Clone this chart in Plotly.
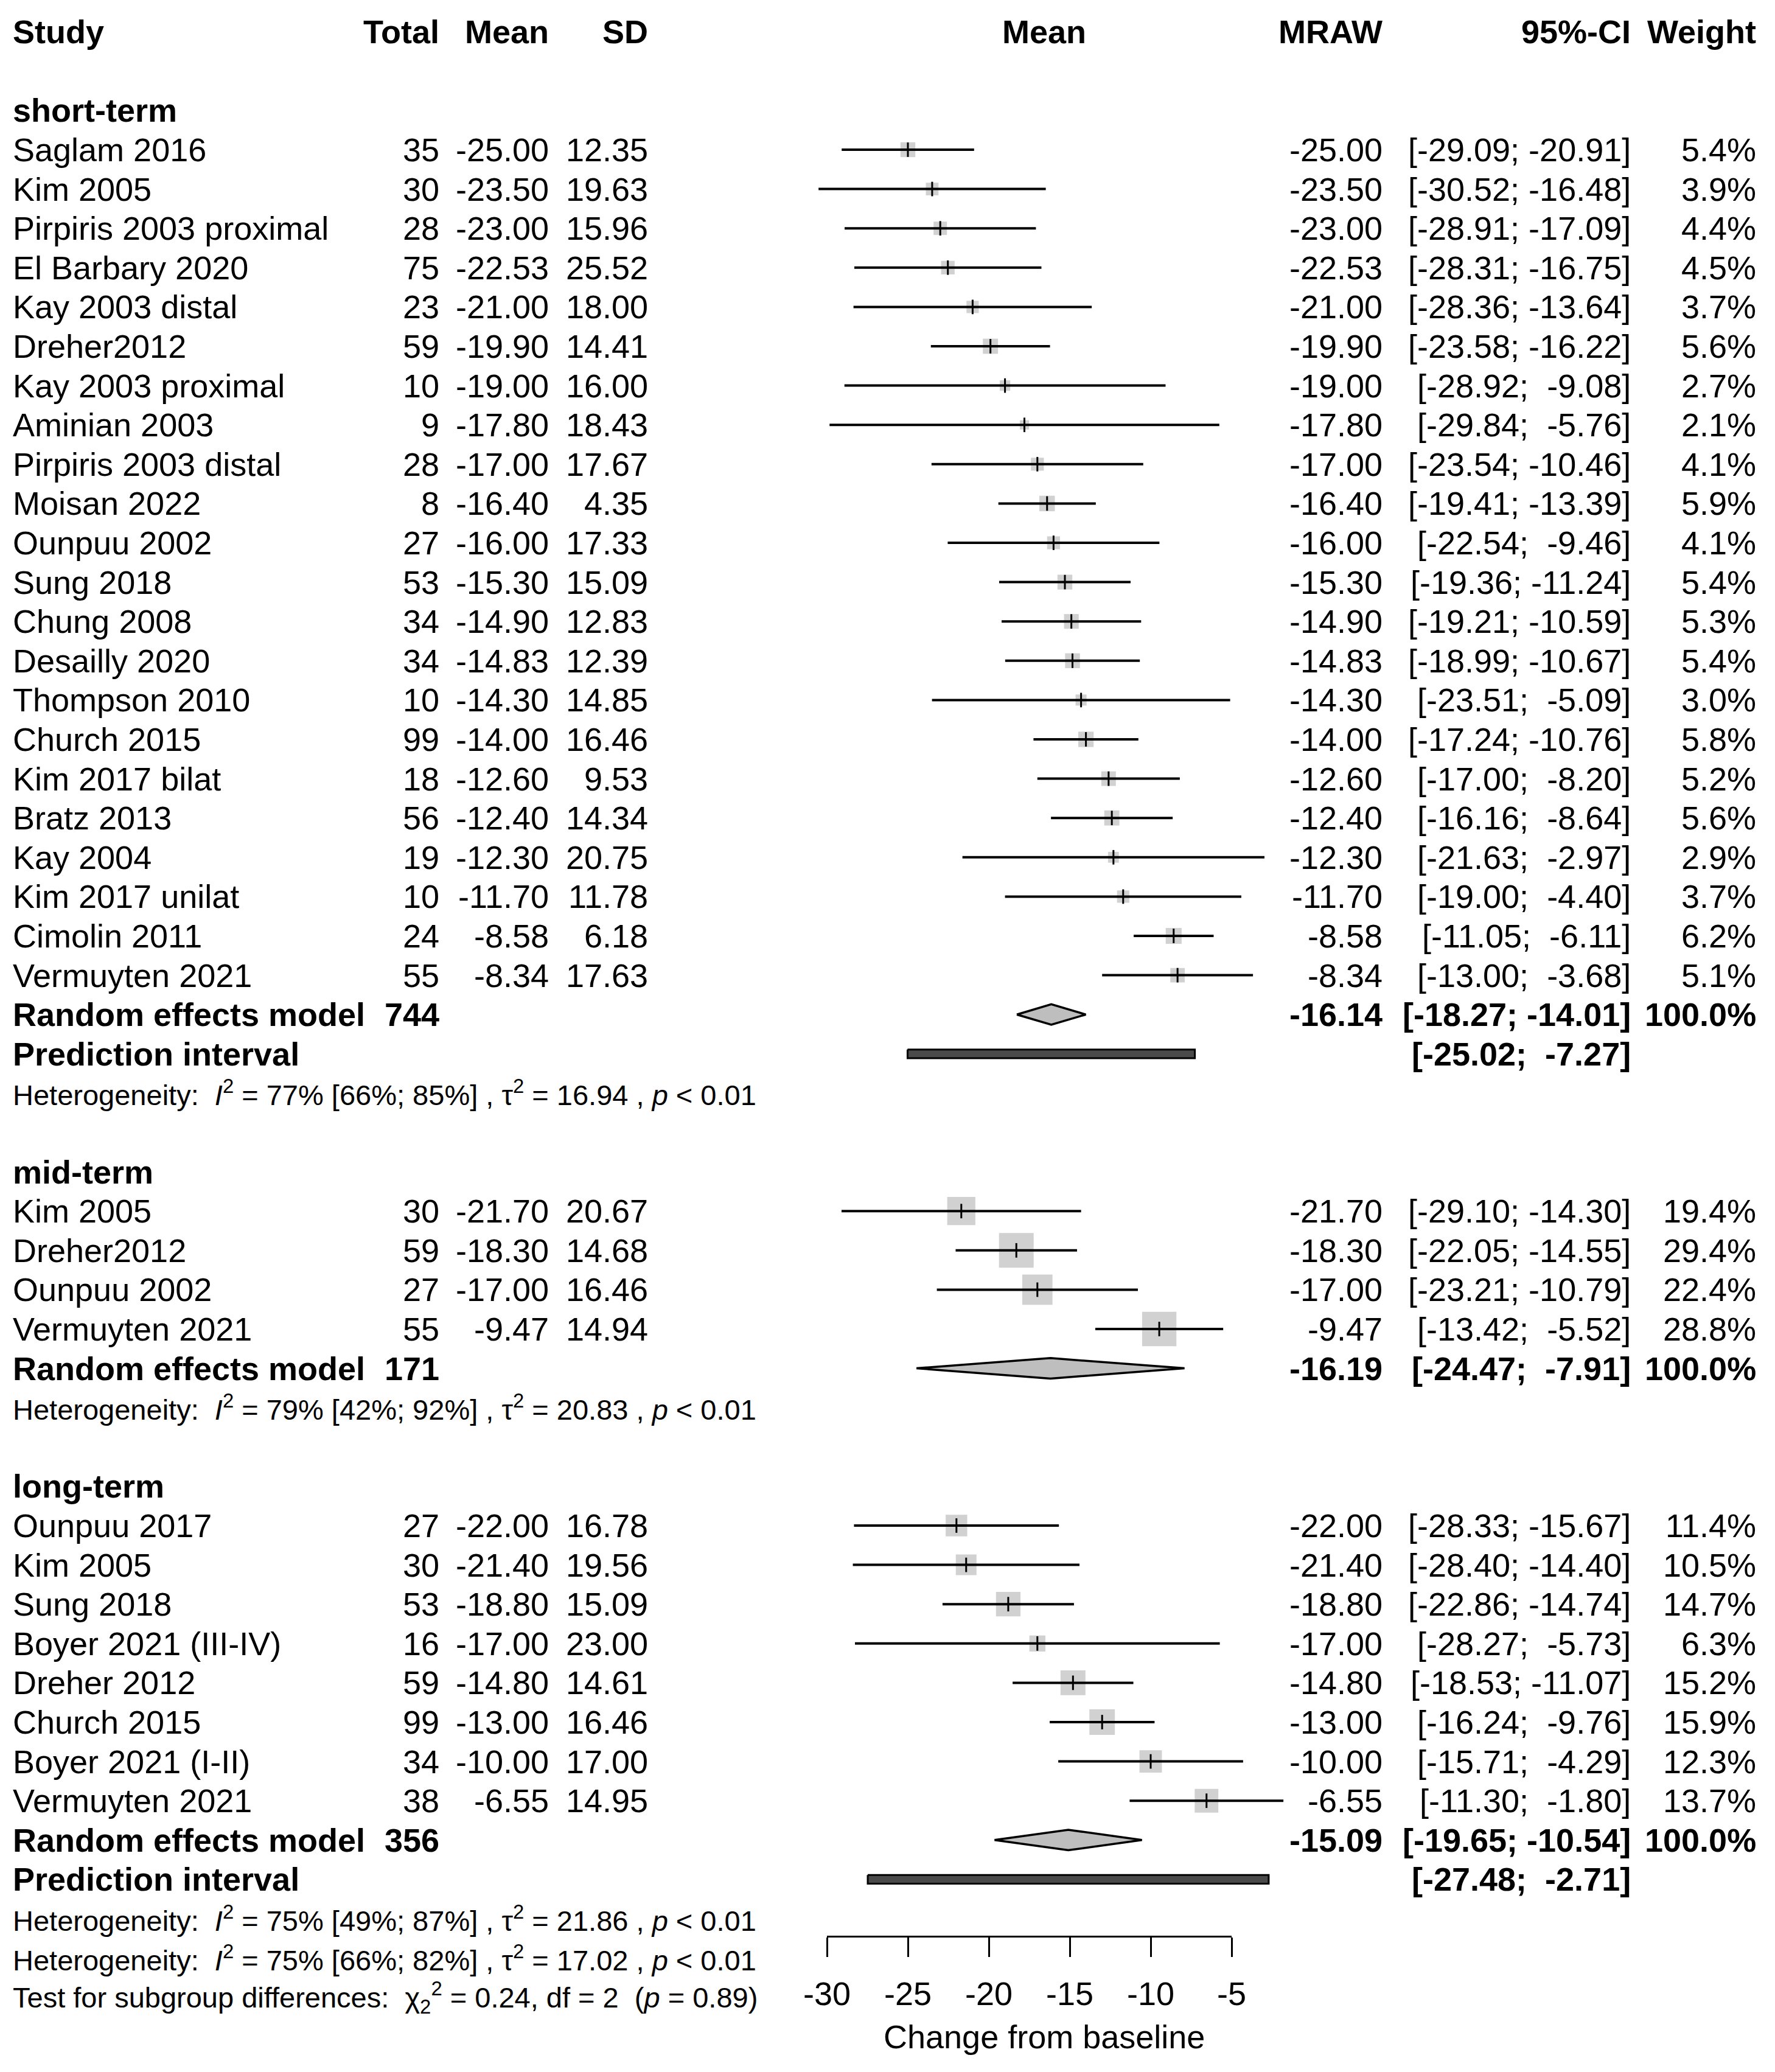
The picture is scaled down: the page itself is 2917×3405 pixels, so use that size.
import plotly.graph_objects as go
import math

# ---------------- data ----------------
short_study = ["Saglam 2016", "Kim 2005", "Pirpiris 2003 proximal", "El Barbary 2020", "Kay 2003 distal",
               "Dreher2012", "Kay 2003 proximal", "Aminian 2003", "Pirpiris 2003 distal", "Moisan 2022",
               "Ounpuu 2002", "Sung 2018", "Chung 2008", "Desailly 2020", "Thompson 2010", "Church 2015",
               "Kim 2017 bilat", "Bratz 2013", "Kay 2004", "Kim 2017 unilat", "Cimolin 2011", "Vermuyten 2021"]
short_total = [35, 30, 28, 75, 23, 59, 10, 9, 28, 8, 27, 53, 34, 34, 10, 99, 18, 56, 19, 10, 24, 55]
short_mean = [-25.00, -23.50, -23.00, -22.53, -21.00, -19.90, -19.00, -17.80, -17.00, -16.40, -16.00,
              -15.30, -14.90, -14.83, -14.30, -14.00, -12.60, -12.40, -12.30, -11.70, -8.58, -8.34]
short_sd = [12.35, 19.63, 15.96, 25.52, 18.00, 14.41, 16.00, 18.43, 17.67, 4.35, 17.33, 15.09, 12.83,
            12.39, 14.85, 16.46, 9.53, 14.34, 20.75, 11.78, 6.18, 17.63]
short_lo = [-29.09, -30.52, -28.91, -28.31, -28.36, -23.58, -28.92, -29.84, -23.54, -19.41, -22.54,
            -19.36, -19.21, -18.99, -23.51, -17.24, -17.00, -16.16, -21.63, -19.00, -11.05, -13.00]
short_hi = [-20.91, -16.48, -17.09, -16.75, -13.64, -16.22, -9.08, -5.76, -10.46, -13.39, -9.46,
            -11.24, -10.59, -10.67, -5.09, -10.76, -8.20, -8.64, -2.97, -4.40, -6.11, -3.68]
short_w = [5.4, 3.9, 4.4, 4.5, 3.7, 5.6, 2.7, 2.1, 4.1, 5.9, 4.1, 5.4, 5.3, 5.4, 3.0, 5.8, 5.2, 5.6,
           2.9, 3.7, 6.2, 5.1]

mid_study = ["Kim 2005", "Dreher2012", "Ounpuu 2002", "Vermuyten 2021"]
mid_total = [30, 59, 27, 55]
mid_mean = [-21.70, -18.30, -17.00, -9.47]
mid_sd = [20.67, 14.68, 16.46, 14.94]
mid_lo = [-29.10, -22.05, -23.21, -13.42]
mid_hi = [-14.30, -14.55, -10.79, -5.52]
mid_w = [19.4, 29.4, 22.4, 28.8]

long_study = ["Ounpuu 2017", "Kim 2005", "Sung 2018", "Boyer 2021 (III-IV)", "Dreher 2012",
              "Church 2015", "Boyer 2021 (I-II)", "Vermuyten 2021"]
long_total = [27, 30, 53, 16, 59, 99, 34, 38]
long_mean = [-22.00, -21.40, -18.80, -17.00, -14.80, -13.00, -10.00, -6.55]
long_sd = [16.78, 19.56, 15.09, 23.00, 14.61, 16.46, 17.00, 14.95]
long_lo = [-28.33, -28.40, -22.86, -28.27, -18.53, -16.24, -15.71, -11.30]
long_hi = [-15.67, -14.40, -14.74, -5.73, -11.07, -9.76, -4.29, -1.80]
long_w = [11.4, 10.5, 14.7, 6.3, 15.2, 15.9, 12.3, 13.7]

group_names = ["short-term", "mid-term", "long-term"]
pooled_total = [744, 171, 356]
pooled_est = [-16.14, -16.19, -15.09]
pooled_lo = [-18.27, -24.47, -19.65]
pooled_hi = [-14.01, -7.91, -10.54]
pred_lo = [-25.02, None, -27.48]
pred_hi = [-7.27, None, -2.71]
het_i2 = ["77%", "79%", "75%"]
het_i2_ci = ["[66%; 85%]", "[42%; 92%]", "[49%; 87%]"]
het_tau2 = ["16.94", "20.83", "21.86"]
het_p = ["< 0.01", "< 0.01", "< 0.01"]

overall_i2 = "75%"
overall_i2_ci = "[66%; 82%]"
overall_tau2 = "17.02"
overall_p = "< 0.01"
subgroup_chi2 = "0.24"
subgroup_df = "2"
subgroup_p = "0.89"

x_ticks = [-30, -25, -20, -15, -10, -5]
x_label = "Change from baseline"

groups = [
    dict(study=short_study, total=short_total, mean=short_mean, sd=short_sd, lo=short_lo, hi=short_hi, w=short_w),
    dict(study=mid_study, total=mid_total, mean=mid_mean, sd=mid_sd, lo=mid_lo, hi=mid_hi, w=mid_w),
    dict(study=long_study, total=long_total, mean=long_mean, sd=long_sd, lo=long_lo, hi=long_hi, w=long_w),
]

# ---------------- geometry (pixels of the 2917x3405 canvas) ----------------
W, H = 2917, 3405
ROW0_PX, ROW_PX = 246.0, 64.6          # centre of first study row, row pitch
AX_LEFT_PX, AX_RIGHT_PX = 1359.0, 2024.0  # pixel of -30 and -5
PX_PER_UNIT = (AX_RIGHT_PX - AX_LEFT_PX) / (x_ticks[-1] - x_ticks[0])
x_range = [x_ticks[0] - AX_LEFT_PX / PX_PER_UNIT, x_ticks[0] + (W - AX_LEFT_PX) / PX_PER_UNIT]
y_range = [(H - ROW0_PX) / ROW_PX, -ROW0_PX / ROW_PX]   # reversed

FONT = "Liberation Sans, Arial, Helvetica, sans-serif"
FS = 54
FS_SMALL = 47
NB = "\u00a0"

col_study = 20 / W
col_total = 723 / W
col_mean = 903 / W
col_sd = 1066 / W
col_plot = 1716 / W
col_mraw = 2273 / W
col_ci = 2681 / W
col_w = 2887 / W

annotations = []


def txt(x, row, s, anchor="left", bold=False, size=FS):
    if bold:
        s = "<b>" + s + "</b>"
    annotations.append(dict(x=x, y=row, xref="paper", yref="y", text=s, showarrow=False,
                            xanchor=anchor, yanchor="middle", borderpad=0,
                            font=dict(family=FONT, size=size, color="black")))


def ci_str(lo, hi):
    return ("[%6.2f; %6.2f]" % (lo, hi)).replace(" ", NB)


def het_str(i2, i2ci, tau2, p):
    return ("Heterogeneity: " + NB + "<i>I</i><sup>2</sup> = " + i2 + " " + i2ci +
            " , τ<sup>2</sup> = " + tau2 + " , <i>p</i> " + p)


# header
hdr = -3
txt(col_study, hdr, "Study", bold=True)
txt(col_total, hdr, "Total", "right", True)
txt(col_mean, hdr, "Mean", "right", True)
txt(col_sd, hdr, "SD", "right", True)
txt(col_plot, hdr, "Mean", "center", True)
txt(col_mraw, hdr, "MRAW", "right", True)
txt(col_ci, hdr, "95%-CI", "right", True)
txt(col_w, hdr, "Weight", "right", True)

traces = []
row = -1
for gi, g in enumerate(groups):
    txt(col_study, row, group_names[gi], bold=True)
    row += 1
    rows = list(range(row, row + len(g["study"])))
    row += len(g["study"])
    for r, s, n, m, sd, lo, hi, w in zip(rows, g["study"], g["total"], g["mean"], g["sd"],
                                         g["lo"], g["hi"], g["w"]):
        txt(col_study, r, s)
        txt(col_total, r, str(n), "right")
        txt(col_mean, r, "%.2f" % m, "right")
        txt(col_sd, r, "%.2f" % sd, "right")
        txt(col_mraw, r, "%.2f" % m, "right")
        txt(col_ci, r, ci_str(lo, hi), "right")
        txt(col_w, r, "%.1f%%" % w, "right")
    # squares
    traces.append(go.Scatter(x=g["mean"], y=rows, mode="markers",
                             marker=dict(symbol="square", size=[10.5 * math.sqrt(w) for w in g["w"]],
                                         color="#BEBEBE", line=dict(width=0)),
                             hoverinfo="skip", showlegend=False))
    # CI lines
    xs, ys = [], []
    for r, lo, hi in zip(rows, g["lo"], g["hi"]):
        xs += [lo, hi, None]
        ys += [r, r, None]
    traces.append(go.Scatter(x=xs, y=ys, mode="lines", line=dict(color="black", width=4),
                             hoverinfo="skip", showlegend=False))
    # estimate ticks
    traces.append(go.Scatter(x=g["mean"], y=rows, mode="markers",
                             marker=dict(symbol="line-ns", size=17, line=dict(width=3, color="black")),
                             hoverinfo="skip", showlegend=False))
    # pooled diamond
    re_row = row
    e, lo, hi = pooled_est[gi], pooled_lo[gi], pooled_hi[gi]
    traces.append(go.Scatter(x=[lo, e, hi, e, lo], y=[re_row, re_row - 0.26, re_row, re_row + 0.26, re_row],
                             mode="lines", fill="toself", fillcolor="#BEBEBE",
                             line=dict(color="black", width=3.5), hoverinfo="skip", showlegend=False))
    txt(col_study, re_row, "Random effects model", bold=True)
    txt(col_total, re_row, str(pooled_total[gi]), "right", True)
    txt(col_mraw, re_row, "%.2f" % e, "right", True)
    txt(col_ci, re_row, ci_str(lo, hi), "right", True)
    txt(col_w, re_row, "100.0%", "right", True)
    row += 1
    if pred_lo[gi] is not None:
        pl, ph = pred_lo[gi], pred_hi[gi]
        hh = 0.11
        traces.append(go.Scatter(x=[pl, ph, ph, pl, pl], y=[row - hh, row - hh, row + hh, row + hh, row - hh],
                                 mode="lines", fill="toself", fillcolor="#4a4a4a",
                                 line=dict(color="black", width=3), hoverinfo="skip", showlegend=False))
        txt(col_study, row, "Prediction interval", bold=True)
        txt(col_ci, row, ci_str(pl, ph), "right", True)
        row += 1
    txt(col_study, row, het_str(het_i2[gi], het_i2_ci[gi], het_tau2[gi], het_p[gi]), size=FS_SMALL)
    row += 1
    if gi < len(groups) - 1:
        row += 1  # blank line

txt(col_study, row, het_str(overall_i2, overall_i2_ci, overall_tau2, overall_p), size=FS_SMALL)
row += 1
txt(col_study, row, "Test for subgroup differences:" + NB + NB + "χ<sub>2</sub><sup>2</sup> = " + subgroup_chi2 +
    ", df = " + subgroup_df + NB + NB + "(<i>p</i> = " + subgroup_p + ")", size=FS_SMALL)
row += 1
txt(col_plot, row, x_label, "center")

# dummy trace that carries the visible x axis
traces.append(go.Scatter(x=x_ticks, y=[None] * len(x_ticks), xaxis="x2", yaxis="y", mode="markers",
                         hoverinfo="skip", showlegend=False))

fig = go.Figure(traces)
axis_line_px = 3182.0
fig.update_layout(
    width=W, height=H, autosize=False,
    margin=dict(l=0, r=0, t=0, b=0, pad=0, autoexpand=False),
    paper_bgcolor="white", plot_bgcolor="rgba(0,0,0,0)",
    font=dict(family=FONT, size=FS, color="black"),
    xaxis=dict(domain=[0, 1], range=x_range, visible=False, fixedrange=True),
    yaxis=dict(domain=[0, 1], range=y_range, visible=False, fixedrange=True),
    xaxis2=dict(domain=[AX_LEFT_PX / W, AX_RIGHT_PX / W], range=[x_ticks[0], x_ticks[-1]],
                anchor="free", position=1 - axis_line_px / H, automargin=False,
                showline=True, linecolor="black", linewidth=3,
                ticks="outside", ticklen=32, tickwidth=3, tickcolor="black",
                ticklabelstandoff=14,
                tickvals=x_ticks, ticktext=[str(v) for v in x_ticks],
                tickfont=dict(family=FONT, size=FS, color="black"),
                showgrid=False, zeroline=False, fixedrange=True),
    annotations=annotations,
    showlegend=False,
)
fig.write_html("out.html", config={"displayModeBar": False, "staticPlot": True},
               post_script="document.body.style.margin='0px';document.body.style.padding='0px';")
